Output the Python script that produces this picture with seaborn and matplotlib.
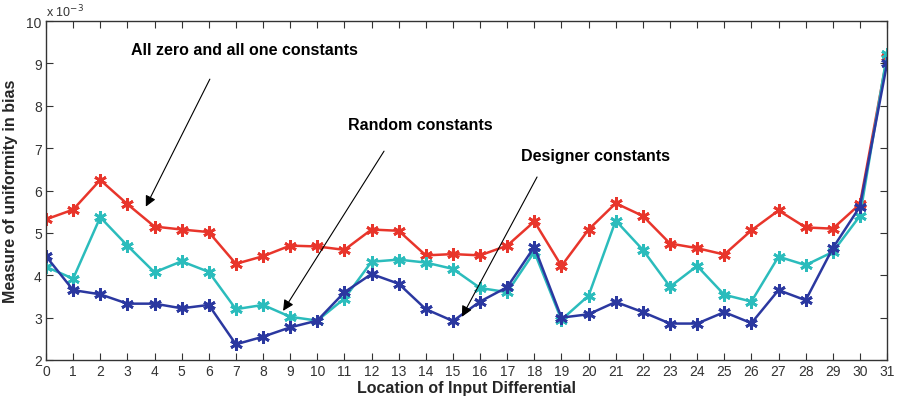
import numpy as np
import pandas as pd
import matplotlib
matplotlib.use("Agg")
import matplotlib.pyplot as plt
import seaborn as sns

positions = list(range(32))
all_zero_one = [5.32, 5.55, 6.25, 5.68, 5.15, 5.08, 5.02, 4.27, 4.45, 4.70, 4.68, 4.60,
                5.08, 5.05, 4.47, 4.50, 4.47, 4.70, 5.27, 4.22, 5.08, 5.70, 5.40, 4.75,
                4.64, 4.49, 5.06, 5.53, 5.13, 5.10, 5.68, 9.15]
random_const = [4.20, 3.92, 5.37, 4.70, 4.07, 4.33, 4.08, 3.20, 3.30, 3.02, 2.93, 3.45,
                4.32, 4.37, 4.30, 4.15, 3.70, 3.60, 4.55, 2.95, 3.52, 5.29, 4.60, 3.73,
                4.22, 3.54, 3.38, 4.44, 4.24, 4.55, 5.40, 9.22]
designer = [4.45, 3.65, 3.55, 3.33, 3.33, 3.22, 3.30, 2.37, 2.55, 2.77, 2.93, 3.60,
            4.03, 3.80, 3.20, 2.92, 3.38, 3.72, 4.67, 3.00, 3.08, 3.37, 3.13, 2.86,
            2.86, 3.13, 2.87, 3.65, 3.41, 4.64, 5.62, 9.00]
series_names = ["All zero and all one constants", "Random constants", "Designer constants"]
colors = ["#e8352b", "#2bbcbc", "#2b38a0"]

df = pd.concat([
    pd.DataFrame({"x": positions, "y": vals, "series": name})
    for name, vals in zip(series_names, [all_zero_one, random_const, designer])
])

sns.set_style("ticks")
plt.rcParams["font.family"] = ["Liberation Sans", "DejaVu Sans"]

fig = plt.figure(figsize=(8.98, 4.02), dpi=100)
ax = fig.add_axes([0.0512, 0.102, 0.9366, 0.843])

sns.lineplot(data=df, x="x", y="y", hue="series", hue_order=series_names,
             palette=colors, marker=(6, 2, 0), markersize=9, markeredgewidth=2,
             linewidth=1.8, legend=False, ax=ax)
for line, c in zip(ax.lines, colors):
    line.set_markeredgecolor(c)
    line.set_markerfacecolor(c)

ax.set_xlim(0, 31)
ax.set_ylim(2, 10)
ax.set_xticks(range(32))
ax.set_yticks(range(2, 11))
ax.tick_params(direction="in", top=True, right=True, length=5, width=0.8,
               labelsize=10, labelcolor="#333333", colors="#333333", pad=3)
for s in ax.spines.values():
    s.set_color("#333333")
    s.set_linewidth(1.0)
ax.set_xlabel("Location of Input Differential", fontsize=11.5, fontweight="bold", labelpad=1)
ax.set_ylabel("Measure of uniformity in bias", fontsize=11.5, fontweight="bold", labelpad=6)
ax.text(0.0, 1.005, "x 10$^{-3}$", transform=ax.transAxes, fontsize=9,
        color="#333333", ha="left", va="bottom")

ann = [
    (series_names[0], (7.33, 9.34), (6.04, 8.63), (3.68, 5.62)),
    (series_names[1], (13.78, 7.55), (12.46, 6.93), (8.74, 3.16)),
    (series_names[2], (20.24, 6.82), (18.10, 6.32), (15.33, 3.02)),
]
for txt, tpos, tail, head in ann:
    ax.text(tpos[0], tpos[1], txt, fontsize=11.5, fontweight="bold", ha="center",
            va="center", color="black")
    ax.annotate("", xy=head, xytext=tail,
                arrowprops=dict(arrowstyle="-|>", color="black", lw=0.8,
                                mutation_scale=16, shrinkA=0, shrinkB=0))

fig.savefig("out.png", dpi=100)
